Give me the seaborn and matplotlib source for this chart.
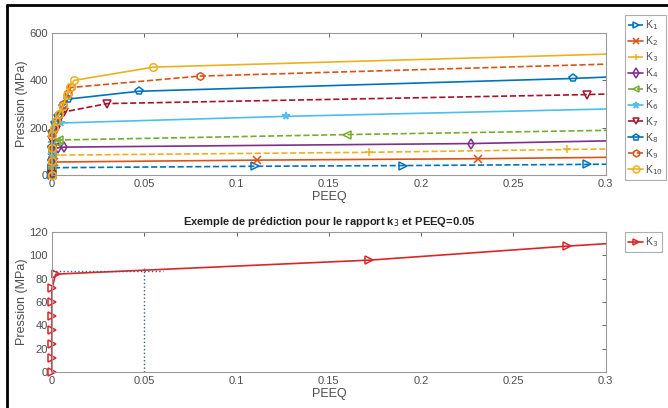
import numpy as np
import seaborn as sns
import matplotlib.pyplot as plt
import pandas as pd
from matplotlib.lines import Line2D
from matplotlib.patches import Rectangle
from matplotlib.ticker import FormatStrFormatter

# courbes Pression = f(PEEQ) pour chaque rapport K1..K10
labels = ['K$_{1}$', 'K$_{2}$', 'K$_{3}$', 'K$_{4}$', 'K$_{5}$',
          'K$_{6}$', 'K$_{7}$', 'K$_{8}$', 'K$_{9}$', 'K$_{10}$']

peeq_k1 = [0, 0, 0, 0, 0.0005, 0.11, 0.19, 0.29, 0.35]
pres_k1 = [0, 10, 20, 28, 31, 37, 40, 45, 49]
peeq_k2 = [0, 0, 0, 0, 0, 0.001, 0.111, 0.231, 0.35]
pres_k2 = [0, 12, 24, 36, 48, 55, 63, 69, 79]
peeq_k3 = [0, 0, 0, 0, 0, 0, 0, 0.002, 0.172, 0.279, 0.35]
pres_k3 = [0, 12, 24, 36, 48, 60, 72, 84, 96, 108, 115]
peeq_k4 = [0, 0, 0, 0, 0, 0.003, 0.0063, 0.227, 0.35]
pres_k4 = [0, 25, 50, 75, 100, 115, 118, 133, 152]
peeq_k5 = [0, 0, 0, 0, 0, 0.002, 0.004, 0.16, 0.35]
pres_k5 = [0, 30, 60, 90, 120, 140, 148, 171, 195]
peeq_k6 = [0, 0, 0, 0, 0, 0.002, 0.005, 0.127, 0.35]
pres_k6 = [0, 45, 90, 135, 180, 205, 220, 248, 288]
peeq_k7 = [0, 0, 0, 0, 0.002, 0.0045, 0.0067, 0.03, 0.29, 0.35]
pres_k7 = [0, 50, 100, 150, 190, 240, 267, 302, 340, 354]
peeq_k8 = [0, 0, 0, 0, 0.0015, 0.0035, 0.006, 0.0088, 0.047, 0.282, 0.35]
pres_k8 = [0, 60, 120, 180, 220, 250, 290, 321, 354, 408, 430]
peeq_k9 = [0, 0, 0, 0, 0.002, 0.004, 0.006, 0.0085, 0.0103, 0.08, 0.35]
pres_k9 = [0, 60, 120, 180, 230, 260, 300, 345, 370, 418, 480]
peeq_k10 = [0, 0, 0, 0, 0.001, 0.002, 0.004, 0.006, 0.008, 0.0095, 0.012, 0.055, 0.35]
pres_k10 = [0, 60, 115, 170, 200, 230, 260, 290, 340, 370, 400, 456, 522]

all_peeq = [peeq_k1, peeq_k2, peeq_k3, peeq_k4, peeq_k5, peeq_k6, peeq_k7, peeq_k8, peeq_k9, peeq_k10]
all_pres = [pres_k1, pres_k2, pres_k3, pres_k4, pres_k5, pres_k6, pres_k7, pres_k8, pres_k9, pres_k10]

# exemple de prediction (k3, PEEQ=0.05)
peeq_cible = 0.05
peeq_fin_h = 0.06
pres_pred = 87
pres_fin_v = 89

colors = ['#0072bd', '#d95319', '#edb120', '#7e2f8e', '#77ac30',
          '#4dbeee', '#a2142f', '#0072bd', '#d95319', '#edb120']
markers = ['>', 'x', '+', 'd', '<', '*', 'v', 'p', 'h', 'o']
styles = ['--', '-', '--', '-', '--', '-', '--', '-', '--', '-']

sns.set_theme(style='white')
plt.rcParams['font.family'] = ['Liberation Sans', 'DejaVu Sans']
plt.rcParams['xtick.direction'] = 'in'
plt.rcParams['ytick.direction'] = 'in'
text_col = '#4d4d4d'

fig = plt.figure(figsize=(6.68, 4.08), dpi=100)
ax1 = fig.add_axes([0.0778, 0.571, 0.829, 0.348])
ax2 = fig.add_axes([0.0778, 0.088, 0.829, 0.343])

for i in range(len(labels)):
    df = pd.DataFrame({'PEEQ': all_peeq[i], 'P': all_pres[i]})
    sns.lineplot(data=df, x='PEEQ', y='P', ax=ax1, estimator=None, sort=False,
                 color=colors[i], marker=markers[i], linestyle=styles[i],
                 markersize=5.5, markerfacecolor='none', markeredgecolor=colors[i],
                 markeredgewidth=1.1, linewidth=1.2, label=labels[i])

df3 = pd.DataFrame({'PEEQ': peeq_k3, 'P': pres_k3})
sns.lineplot(data=df3, x='PEEQ', y='P', ax=ax2, estimator=None, sort=False,
             color='#d9262b', marker='>', markersize=5.5, markerfacecolor='none',
             markeredgecolor='#d9262b', markeredgewidth=1.1, linewidth=1.2,
             label='K$_{3}$')
ax2.plot([0, peeq_fin_h], [pres_pred, pres_pred], ':', color='#3a5f7a', linewidth=1)
ax2.plot([peeq_cible, peeq_cible], [0, pres_fin_v], ':', color='#3a5f7a', linewidth=1)

# les marqueurs en PEEQ=0 restent visibles, la droite reste coupee a 0.3
for ax in (ax1, ax2):
    clip = Rectangle((-0.05, -0.05), 1.05, 1.1, transform=ax.transAxes)
    for ln in ax.lines:
        ln.set_clip_path(clip)

for ax in (ax1, ax2):
    ax.set_xlim(0, 0.3)
    ax.set_xticks([0, 0.05, 0.1, 0.15, 0.2, 0.25, 0.3])
    ax.xaxis.set_major_formatter(FormatStrFormatter('%g'))
    ax.tick_params(top=True, right=True, labelsize=8, colors=text_col,
                   length=3, width=0.6, pad=3)
    for s in ax.spines.values():
        s.set_color('#9a9a9a')
        s.set_linewidth(0.8)
    ax.set_xlabel('PEEQ', fontsize=9, color=text_col, labelpad=1)
    ax.set_ylabel('Pression (MPa)', fontsize=9, color=text_col, labelpad=1)

ax1.set_ylim(0, 600)
ax1.set_yticks([0, 200, 400, 600])
ax2.set_ylim(0, 120)
ax2.set_yticks([0, 20, 40, 60, 80, 100, 120])
ax2.set_title('Exemple de prédiction pour le rapport k$_3$ et PEEQ=0.05',
              fontsize=8, fontweight='bold', color='#222222', pad=5)

leg_kw = dict(loc='upper left', bbox_transform=fig.transFigure, fontsize=7.5,
              frameon=True, fancybox=False, edgecolor='#9a9a9a', handlelength=1.5,
              handletextpad=0.2, borderpad=0.3, labelspacing=0.22, borderaxespad=0,
              markerscale=0.9)
l1 = ax1.legend(bbox_to_anchor=(0.935, 0.963), **leg_kw)
l2 = ax2.legend(bbox_to_anchor=(0.935, 0.431), **leg_kw)
for leg in (l1, l2):
    leg.get_frame().set_linewidth(0.8)
    for t in leg.get_texts():
        t.set_color(text_col)

# cadre noir de la capture
fig.add_artist(Line2D([0.0105, 1], [0.988, 0.988], color='black', linewidth=2,
                      transform=fig.transFigure))
fig.add_artist(Line2D([0.0105, 0.0105], [0, 0.988], color='black', linewidth=2,
                      transform=fig.transFigure))

plt.savefig('out.png', dpi=100)
